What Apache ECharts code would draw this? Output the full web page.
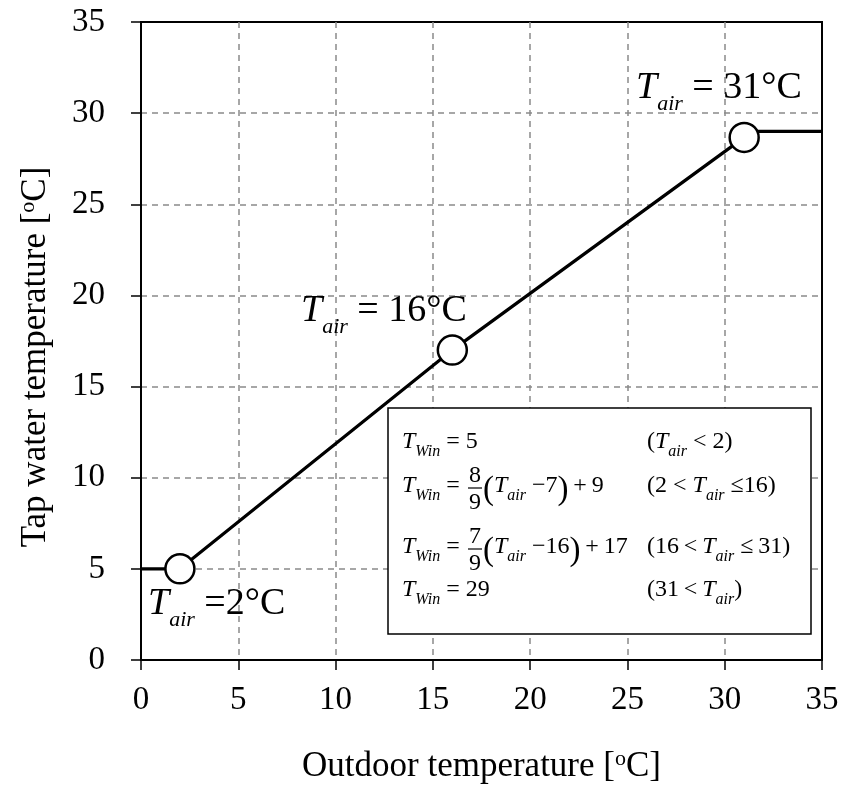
<!DOCTYPE html>
<html>
<head>
<meta charset="utf-8">
<script src="https://cdn.jsdelivr.net/npm/echarts@6/dist/echarts.min.js"></script>
<style>
  html, body { margin: 0; padding: 0; background: #fff; }
  #chart { width: 842px; height: 791px; }
</style>
</head>
<body>
<div id="chart"></div>
<script>
// Axis ticks (°C)
const xTicks = [0, 5, 10, 15, 20, 25, 30, 35];
const yTicks = [0, 5, 10, 15, 20, 25, 30, 35];

// Tap-water temperature curve: outdoor temperature -> tap water temperature
const curveX = [0, 2, 16, 31, 31, 35];
const curveY = [5, 5, 17, 28.67, 29, 29];

// Break points of the piecewise model
const breakX = [2, 16, 31];
const breakY = [5, 17, 28.67];

const SERIF = '"Liberation Serif", "Times New Roman", serif';

// Rich-text token whose glyph baseline lies `base` px below the line top.
function tok(size, italic, base) {
  const mid = base - 0.3375 * size;
  return {
    fontFamily: SERIF, fontSize: size, fontStyle: italic ? 'italic' : 'normal',
    fontWeight: 'normal', fill: '#000', height: 2, lineHeight: 60,
    verticalAlign: 'top', padding: [mid - 1, 0, 0, 0]
  };
}

function richOf(parts) {
  return parts.map(p => '{' + p[0] + '|' + p[1] + '}').join('');
}

// Text styles: annotations beside the break points and the formula box
const annBase = 34;
const annRich = {
  T: tok(38, true, annBase),
  s: tok(22, true, annBase + 11),
  n: tok(38, false, annBase)
};
const eqBase = 22;
const eqRich = {
  T: tok(24, true, eqBase),
  s: tok(16, true, eqBase + 7),
  n: tok(24, false, eqBase),
  P: tok(33, false, eqBase + 7)
};

function label(x, baseline, parts, rich, base) {
  return {
    type: 'text', x: x, y: baseline - base, z: 110,
    style: { text: richOf(parts), rich: rich, align: 'left', verticalAlign: 'top', fill: '#000' }
  };
}

function num(cx, baseline, t) {
  return {
    type: 'text', x: cx, y: baseline - eqBase, z: 110,
    style: { text: '{n|' + t + '}', rich: eqRich, align: 'center', verticalAlign: 'top', fill: '#000' }
  };
}

function fraction(cx, baseline, top, bottom) {
  return [
    num(cx, baseline - 10, top),
    num(cx, baseline + 17, bottom),
    { type: 'line', z: 110, shape: { x1: cx - 7, y1: baseline - 6, x2: cx + 7, y2: baseline - 6 },
      style: { stroke: '#000', lineWidth: 1.2 } }
  ];
}

const rowY = [450, 494, 555, 598];
const leftX = 402, rightX = 647;
const fracX = 475, afterFracX = 483;
const thin = '\u2009';

const graphics = [
  // formula box
  { type: 'rect', z: 100, shape: { x: 388, y: 408, width: 423, height: 226 },
    style: { fill: '#fff', stroke: '#000', lineWidth: 1.5 } },

  label(leftX, rowY[0], [['T', 'T'], ['s', 'Win'], ['n', ' = 5']], eqRich, eqBase),
  label(rightX, rowY[0], [['n', '('], ['T', 'T'], ['s', 'air'], ['n', ' < 2)']], eqRich, eqBase),

  label(leftX, rowY[1], [['T', 'T'], ['s', 'Win'], ['n', ' =']], eqRich, eqBase),
  ...fraction(fracX, rowY[1], '8', '9'),
  label(afterFracX, rowY[1], [['P', '('], ['T', 'T'], ['s', 'air'], ['n', ' \u22127'], ['P', ')'], ['n', thin + '+' + thin + '9']], eqRich, eqBase),
  label(rightX, rowY[1], [['n', '(2 < '], ['T', 'T'], ['s', 'air'], ['n', ' \u226416)']], eqRich, eqBase),

  label(leftX, rowY[2], [['T', 'T'], ['s', 'Win'], ['n', ' =']], eqRich, eqBase),
  ...fraction(fracX, rowY[2], '7', '9'),
  label(afterFracX, rowY[2], [['P', '('], ['T', 'T'], ['s', 'air'], ['n', ' \u221216'], ['P', ')'], ['n', thin + '+' + thin + '17']], eqRich, eqBase),
  label(rightX, rowY[2], [['n', '(16' + thin + '<' + thin], ['T', 'T'], ['s', 'air'], ['n', ' \u2264' + thin + '31)']], eqRich, eqBase),

  label(leftX, rowY[3], [['T', 'T'], ['s', 'Win'], ['n', ' = 29']], eqRich, eqBase),
  label(rightX, rowY[3], [['n', '(31' + thin + '<' + thin], ['T', 'T'], ['s', 'air'], ['n', ')']], eqRich, eqBase),

  // break-point annotations
  label(148, 617, [['T', 'T'], ['s', 'air'], ['n', ' =2\u00b0C']], annRich, annBase),
  label(301, 324, [['T', 'T'], ['s', 'air'], ['n', ' = 16\u00b0C']], annRich, annBase),
  label(636, 101, [['T', 'T'], ['s', 'air'], ['n', ' = 31\u00b0C']], annRich, annBase)
];

const tickFont = { fontFamily: SERIF, fontSize: 33, color: '#000' };
const supRich = { sup: { fontFamily: SERIF, fontSize: 22, color: '#000', padding: [0, 0, 15, 0] } };
const gridLine = { show: true, showMinLine: false, showMaxLine: false,
  lineStyle: { color: '#8a8a8a', width: 1.5, type: [6, 5] } };

const chart = echarts.init(document.getElementById('chart'), null, { renderer: 'canvas' });
chart.setOption({
  backgroundColor: '#fff',
  animation: false,
  grid: { left: 141, right: 20, top: 22, bottom: 131, show: true,
          borderColor: '#000', borderWidth: 2, backgroundColor: 'transparent' },
  xAxis: {
    type: 'value', min: xTicks[0], max: xTicks[xTicks.length - 1], interval: xTicks[1] - xTicks[0],
    name: 'Outdoor temperature [{sup|o}C]', nameLocation: 'middle', nameGap: 88,
    nameTextStyle: { fontFamily: SERIF, fontSize: 35, color: '#000', rich: supRich },
    axisLine: { show: true, onZero: false, lineStyle: { color: '#000', width: 2 } },
    axisTick: { show: true, inside: false, length: 10, lineStyle: { color: '#000', width: 1.5 } },
    axisLabel: { ...tickFont, margin: 24 },
    splitLine: gridLine
  },
  yAxis: {
    type: 'value', min: yTicks[0], max: yTicks[yTicks.length - 1], interval: yTicks[1] - yTicks[0],
    name: 'Tap water temperature [{sup|o}C]', nameLocation: 'middle', nameGap: 87,
    nameTextStyle: { fontFamily: SERIF, fontSize: 35, color: '#000', rich: supRich, padding: [0, 32, 0, 0] },
    axisLine: { show: true, onZero: false, lineStyle: { color: '#000', width: 2 } },
    axisTick: { show: true, inside: false, length: 10, lineStyle: { color: '#000', width: 1.5 } },
    axisLabel: { ...tickFont, margin: 36 },
    splitLine: gridLine
  },
  series: [
    {
      type: 'line', z: 3, symbol: 'none', silent: true,
      data: curveX.map((x, i) => [x, curveY[i]]),
      lineStyle: { color: '#000', width: 3.2 }
    },
    {
      type: 'scatter', z: 4, symbol: 'circle', symbolSize: 29, silent: true,
      data: breakX.map((x, i) => [x, breakY[i]]),
      itemStyle: { color: '#fff', opacity: 1, borderColor: '#000', borderWidth: 2.5 }
    }
  ],
  graphic: graphics
});
</script>
</body>
</html>
